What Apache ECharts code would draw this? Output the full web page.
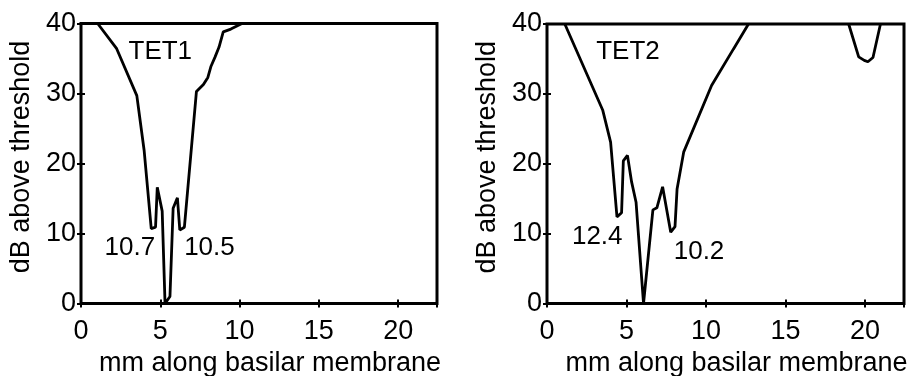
<!DOCTYPE html>
<html>
<head>
<meta charset="utf-8">
<script src="https://cdn.jsdelivr.net/npm/echarts/dist/echarts.min.js"></script>
<style>
  html, body { margin: 0; padding: 0; background: #fff; }
  #chart { width: 911px; height: 376px; }
</style>
</head>
<body>
<div id="chart"></div>
<script>
// Tuning curves: level above threshold (dB) vs place along the basilar membrane (mm)
const tet1X = [1.05, 2.25, 3.52, 3.98, 4.43, 4.70, 4.81, 5.12, 5.30, 5.61, 5.81, 6.08, 6.23, 6.52, 7.28, 7.72, 8.00, 8.20, 8.45, 8.70, 8.97, 9.45, 10.15];
const tet1Y = [40, 36.4, 29.7, 21.9, 10.7, 10.9, 16.6, 13.2, 0, 1.0, 13.6, 15.1, 10.5, 10.9, 30.3, 31.3, 32.3, 33.9, 35.2, 36.6, 38.8, 39.2, 40];

// Second curve; '-' breaks the line where it leaves the plotted range
const tet2X = [1.12, 3.50, 4.00, 4.40, 4.69, 4.80, 5.06, 5.32, 5.60, 6.07, 6.66, 6.91, 7.27, 7.78, 8.05, 8.18, 8.60, 10.35, 11.72, 12.67, 15.8, 18.97, 19.60, 19.95, 20.18, 20.50, 20.97];
const tet2Y = [40, 27.7, 23.1, 12.4, 13.0, 20.4, 21.2, 17.4, 14.5, 0, 13.4, 13.7, 16.7, 10.2, 11.0, 16.4, 21.7, 31.2, 36.4, 40, '-', 40, 35.3, 34.8, 34.6, 35.2, 40];

// Values printed beside the two side dips of each curve
const tet1DipValues = [10.7, 10.5];
const tet2DipValues = [12.4, 10.2];

const panelNames = ['TET1', 'TET2'];
const xTickStep = 5;
const yTickStep = 10;
const xMax = 22.45;
const yMax = 40;
const xTitle = 'mm along basilar membrane';
const yTitle = 'dB above threshold';

const FONT = '"Liberation Sans", Arial, Helvetica, sans-serif';

function pairs(xs, ys) {
  return xs.map((x, i) => [x, ys[i]]);
}

const chart = echarts.init(document.getElementById('chart'), null, { renderer: 'canvas' });

const grids = [
  { left: 81, top: 23.5, width: 356, height: 280 },
  { left: 547, top: 24, width: 357, height: 279.5 }
];

const tickStyle = { show: true, inside: true, length: 4, lineStyle: { color: '#000', width: 2 } };

const xAxes = [];
const yAxes = [];
grids.forEach((g, i) => {
  xAxes.push({
    gridIndex: i, type: 'value', position: 'bottom',
    min: 0, max: xMax, interval: xTickStep,
    axisLine: { show: false },
    axisTick: tickStyle,
    splitLine: { show: false },
    axisLabel: { show: true, margin: 15, color: '#000', fontSize: 27, fontFamily: FONT, showMaxLabel: false, hideOverlap: false },
    name: xTitle, nameLocation: 'middle', nameGap: 44,
    nameTextStyle: { color: '#000', fontSize: 27, fontFamily: FONT, padding: [0, 0, 0, 22] }
  });
  xAxes.push({
    gridIndex: i, type: 'value', position: 'top',
    min: 0, max: xMax, interval: xTickStep,
    axisLine: { show: false },
    axisTick: tickStyle,
    splitLine: { show: false },
    axisLabel: { show: false }
  });
  yAxes.push({
    gridIndex: i, type: 'value', position: 'left',
    min: 0, max: yMax, interval: yTickStep,
    axisLine: { show: false },
    axisTick: tickStyle,
    splitLine: { show: false },
    axisLabel: { show: true, margin: 5, color: '#000', fontSize: 27, fontFamily: FONT, hideOverlap: false },
    name: yTitle, nameLocation: 'middle', nameGap: 46,
    nameTextStyle: { color: '#000', fontSize: 27, fontFamily: FONT, padding: [0, 0, 0, 13] }
  });
  yAxes.push({
    gridIndex: i, type: 'value', position: 'right',
    min: 0, max: yMax, interval: yTickStep,
    axisLine: { show: false },
    axisTick: tickStyle,
    splitLine: { show: false },
    axisLabel: { show: false }
  });
});

const textLabel = {
  show: true, position: 'inside', color: '#000', fontSize: 26, fontFamily: FONT,
  formatter: (p) => p.name
};

function curveSeries(idx, data, marks) {
  return {
    type: 'line',
    xAxisIndex: idx * 2,
    yAxisIndex: idx * 2,
    data: data,
    showSymbol: false,
    symbol: 'none',
    clip: true,
    connectNulls: false,
    lineStyle: { color: '#000', width: 2.8 },
    itemStyle: { color: '#000' },
    silent: true,
    markPoint: {
      symbol: 'circle', symbolSize: 0,
      label: textLabel,
      itemStyle: { color: 'transparent' },
      data: marks
    }
  };
}

const option = {
  backgroundColor: '#fff',
  animation: false,
  grid: grids.map(g => Object.assign({
    show: true, borderColor: '#000', borderWidth: 3, backgroundColor: 'transparent',
    containLabel: false, outerBoundsMode: 'none'
  }, g)),
  xAxis: xAxes,
  yAxis: yAxes,
  series: [
    curveSeries(0, pairs(tet1X, tet1Y), [
      { name: panelNames[0], coord: [5.0, 36.0] },
      { name: String(tet1DipValues[0]), coord: [3.08, 8.0] },
      { name: String(tet1DipValues[1]), coord: [8.1, 8.0] }
    ]),
    curveSeries(1, pairs(tet2X, tet2Y), [
      { name: panelNames[1], coord: [5.09, 36.0] },
      { name: String(tet2DipValues[0]), coord: [3.16, 9.5] },
      { name: String(tet2DipValues[1]), coord: [9.56, 7.4] }
    ])
  ]
};

chart.setOption(option);
</script>
</body>
</html>
